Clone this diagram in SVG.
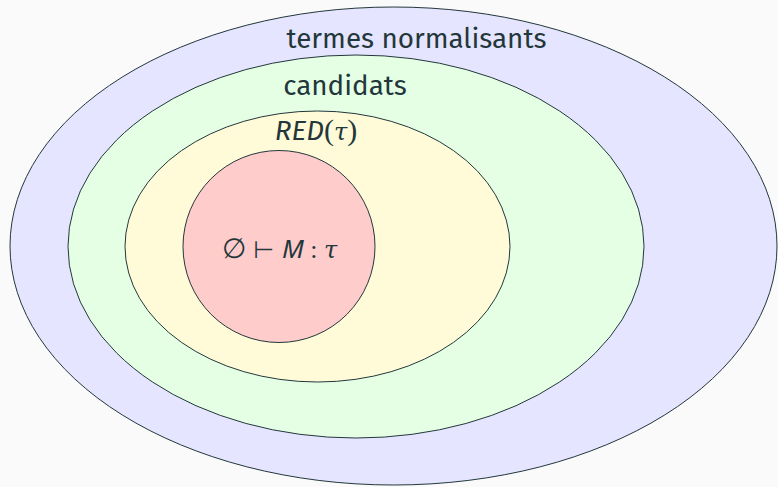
<svg xmlns="http://www.w3.org/2000/svg" width="778" height="487" viewBox="0 0 778 487">
<style>
.s{stroke:#23373b;stroke-width:1}
.t{font-family:"Fira Sans","Open Sans","Noto Sans",sans-serif;fill:#23373b;text-anchor:middle}
</style>
<rect width="778" height="487" fill="#fafafa"/>
<g id="normalisants">
<ellipse class="s" cx="393.5" cy="246" rx="383.5" ry="239" fill="#e5e5ff"/>
<text class="t" x="416.5" y="48" font-size="27.8">termes normalisants</text>
</g>
<g id="candidats">
<ellipse class="s" cx="356" cy="246.5" rx="288" ry="191.5" fill="#e5ffe5"/>
<text class="t" x="345" y="95" font-size="27.8">candidats</text>
</g>
<g id="red">
<ellipse class="s" cx="317.5" cy="246.5" rx="192.5" ry="135.5" fill="#fffad8"/>
<text class="t" x="316" y="140" font-size="27.8"><tspan font-style="italic">RED</tspan><tspan font-family="'Liberation Serif',serif" font-size="30">(</tspan><tspan font-family="'DejaVu Serif',serif" font-style="italic" font-size="24">τ</tspan><tspan font-family="'Liberation Serif',serif" font-size="30">)</tspan></text>
</g>
<g id="typed">
<circle class="s" cx="279" cy="246.5" r="96" fill="#ffcccc"/>
<text class="t" x="279.5" y="258" font-size="26" font-weight="400"><tspan font-family="'Liberation Serif',serif" font-size="28">∅</tspan><tspan font-family="'DejaVu Sans',sans-serif" font-size="24"> ⊢ </tspan><tspan font-style="italic" font-family="'Noto Sans',sans-serif">M</tspan><tspan font-family="'Liberation Serif',serif"> : </tspan><tspan font-family="'DejaVu Serif',serif" font-style="italic" font-size="24">τ</tspan></text>
</g>
<g id="connectors"/>
</svg>
